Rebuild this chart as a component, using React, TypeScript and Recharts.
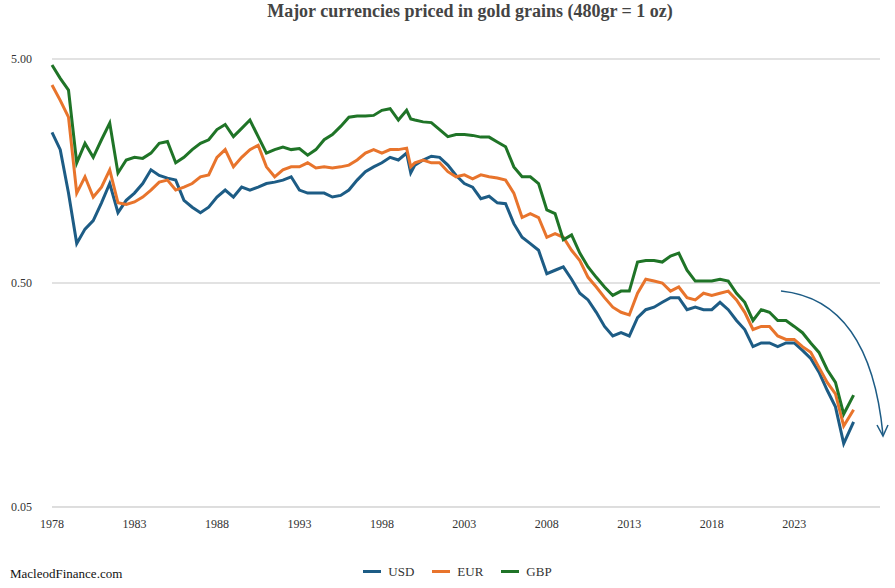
import { CartesianGrid, Line, LineChart, XAxis, YAxis } from 'recharts'

const years = [
  1978, 1978.5, 1979, 1979.5, 1980, 1980.5, 1981, 1981.5, 1982, 1982.5,
  1983, 1983.5, 1984, 1984.5, 1985, 1985.5, 1986, 1986.5, 1987, 1987.5,
  1988, 1988.5, 1989, 1989.5, 1990, 1990.5, 1991, 1991.5, 1992, 1992.5,
  1993, 1993.5, 1994, 1994.5, 1995, 1995.5, 1996, 1996.5, 1997, 1997.5,
  1998, 1998.5, 1999, 1999.5, 1999.75,
  2000, 2000.5, 2001, 2001.5, 2002, 2002.5, 2003, 2003.5, 2004, 2004.5,
  2005, 2005.5, 2006, 2006.5, 2007, 2007.5, 2008, 2008.5, 2009, 2009.5,
  2010, 2010.5, 2011, 2011.5, 2012, 2012.5, 2013, 2013.5, 2014, 2014.5,
  2015, 2015.5, 2016, 2016.5, 2017, 2017.5, 2018, 2018.5, 2019, 2019.5,
  2020, 2020.5, 2021, 2021.5, 2022, 2022.5, 2023, 2023.5, 2024, 2024.5,
  2025, 2025.5, 2026, 2026.6,
]

const usd = [
  2.35, 1.97, 1.26, 0.75, 0.87, 0.95, 1.14, 1.39, 1.03, 1.17,
  1.26, 1.39, 1.6, 1.51, 1.47, 1.44, 1.17, 1.09, 1.03, 1.09,
  1.21, 1.3, 1.21, 1.34, 1.3, 1.34, 1.39, 1.41, 1.44, 1.49,
  1.3, 1.26, 1.26, 1.26, 1.21, 1.23, 1.3, 1.44, 1.57, 1.65,
  1.72, 1.82, 1.77, 1.9, 1.55,
  1.68, 1.77, 1.84, 1.82, 1.68, 1.51, 1.39, 1.34, 1.19, 1.22,
  1.14, 1.13, 0.92, 0.8, 0.75, 0.7, 0.55, 0.57, 0.59, 0.52,
  0.45, 0.42, 0.37, 0.32, 0.29, 0.3, 0.29, 0.35, 0.38, 0.39,
  0.41, 0.43, 0.43, 0.38, 0.39, 0.38, 0.38, 0.41, 0.38, 0.34,
  0.31, 0.26, 0.27, 0.27, 0.26, 0.27, 0.27, 0.25, 0.23, 0.2,
  0.166, 0.14, 0.096, 0.12,
]

const eur = [
  3.83, 3.27, 2.75, 1.26, 1.49, 1.21, 1.34, 1.6, 1.14, 1.12,
  1.15, 1.21, 1.3, 1.41, 1.44, 1.3, 1.34, 1.39, 1.49, 1.52,
  1.82, 1.97, 1.65, 1.82, 1.97, 2.06, 1.65, 1.49, 1.6, 1.65,
  1.65, 1.72, 1.63, 1.65, 1.63, 1.65, 1.68, 1.77, 1.9, 1.97,
  1.9, 1.97, 1.97, 2.0, 1.65,
  1.72, 1.77, 1.72, 1.72, 1.57, 1.49, 1.52, 1.46, 1.52, 1.49,
  1.47, 1.44, 1.26, 0.98, 1.02, 0.98, 0.8, 0.83, 0.8, 0.7,
  0.63, 0.53, 0.48, 0.43, 0.39, 0.37, 0.36, 0.45, 0.52, 0.51,
  0.5, 0.46, 0.48, 0.43, 0.42, 0.45, 0.44, 0.45, 0.46, 0.42,
  0.37, 0.31, 0.32, 0.32, 0.29, 0.28, 0.28, 0.26, 0.245, 0.21,
  0.18, 0.16, 0.115, 0.136,
]

const gbp = [
  4.7, 4.1, 3.63, 1.72, 2.1, 1.82, 2.18, 2.59, 1.55, 1.77,
  1.82, 1.8, 1.9, 2.1, 2.14, 1.72, 1.82, 1.97, 2.1, 2.18,
  2.42, 2.55, 2.25, 2.45, 2.67, 2.25, 1.9, 1.97, 2.02, 1.97,
  1.99, 1.86, 1.97, 2.18, 2.3, 2.5, 2.75, 2.78, 2.78, 2.8,
  2.95, 3.0, 2.67, 2.95, 2.7,
  2.67, 2.62, 2.6, 2.42, 2.25, 2.3, 2.3, 2.28, 2.24, 2.24,
  2.13, 2.03, 1.65, 1.49, 1.49, 1.39, 1.06, 1.02, 0.78, 0.82,
  0.68, 0.59, 0.53, 0.48, 0.44, 0.46, 0.46, 0.62, 0.63, 0.63,
  0.62, 0.66, 0.68, 0.57, 0.51, 0.51, 0.51, 0.52, 0.51, 0.45,
  0.41, 0.34, 0.38, 0.37, 0.34, 0.34, 0.32, 0.3, 0.27, 0.245,
  0.205, 0.18, 0.13, 0.158,
]

const xTicks = [1978, 1983, 1988, 1993, 1998, 2003, 2008, 2013, 2018, 2023]
const yTicks = [0.05, 0.5, 5]

const colors = { usd: '#1d5c85', eur: '#e8742c', gbp: '#1f7427' }
const font = '"Liberation Serif", "DejaVu Serif", serif'

const data = years.map((year, i) => ({ year, usd: usd[i], eur: eur[i], gbp: gbp[i] }))

function LegendItem({ color, label }: { color: string; label: string }) {
  return (
    <span style={{ display: 'inline-flex', alignItems: 'center', margin: '0 9px', fontFamily: font }}>
      <i style={{ display: 'inline-block', width: 18, height: 3, background: color, marginRight: 7 }} />
      {label}
    </span>
  )
}

export default function App() {
  return (
    <div style={{ position: 'absolute', left: 0, top: 0, width: 895, height: 588, background: '#fff', fontFamily: font, color: '#333' }}>
      <div style={{ position: 'absolute', top: 1, left: 40, width: 860, textAlign: 'center', fontWeight: 'bold', fontSize: 18, color: '#444', fontFamily: font }}>
        Major currencies priced in gold grains (480gr = 1 oz)
      </div>
      <LineChart width={895} height={540} data={data} margin={{ top: 59, right: 15, bottom: 0, left: 0 }} style={{ position: 'absolute', top: 0, left: 0 }}>
        <CartesianGrid vertical={false} stroke="#d9d9d9" strokeWidth={1.5} />
        <XAxis
          dataKey="year"
          type="number"
          domain={[1978, 2028.2]}
          ticks={xTicks}
          stroke="#d9d9d9"
          tickLine={false}
          tick={{ fill: '#333', fontSize: 12, fontFamily: font }}
          tickMargin={6}
          height={33}
        />
        <YAxis
          scale="log"
          domain={[0.05, 5]}
          ticks={yTicks}
          axisLine={false}
          tickLine={false}
          width={52}
          tickMargin={14}
          tickFormatter={(v: number) => v.toFixed(2)}
          tick={{ fill: '#333', fontSize: 12, fontFamily: font }}
        />
        <Line dataKey="usd" stroke={colors.usd} strokeWidth={3} dot={false} isAnimationActive={false} />
        <Line dataKey="eur" stroke={colors.eur} strokeWidth={3} dot={false} isAnimationActive={false} />
        <Line dataKey="gbp" stroke={colors.gbp} strokeWidth={3} dot={false} isAnimationActive={false} />
      </LineChart>
      <svg width={895} height={588} style={{ position: 'absolute', left: 0, top: 0, pointerEvents: 'none' }}>
        <path d="M781 291 Q 870 300 883 435" fill="none" stroke={colors.usd} strokeWidth={1.5} />
        <path d="M877 425 L883 436 L888 425" fill="none" stroke={colors.usd} strokeWidth={1.5} />
      </svg>
      <div style={{ position: 'absolute', top: 561, left: 0, width: 895, textAlign: 'center', fontSize: 13, paddingLeft: 10, fontFamily: font }}>
        <LegendItem color={colors.usd} label="USD" />
        <LegendItem color={colors.eur} label="EUR" />
        <LegendItem color={colors.gbp} label="GBP" />
      </div>
      <div style={{ position: 'absolute', top: 566, left: 10, fontSize: 13, color: '#111', fontFamily: font }}>MacleodFinance.com</div>
    </div>
  )
}
